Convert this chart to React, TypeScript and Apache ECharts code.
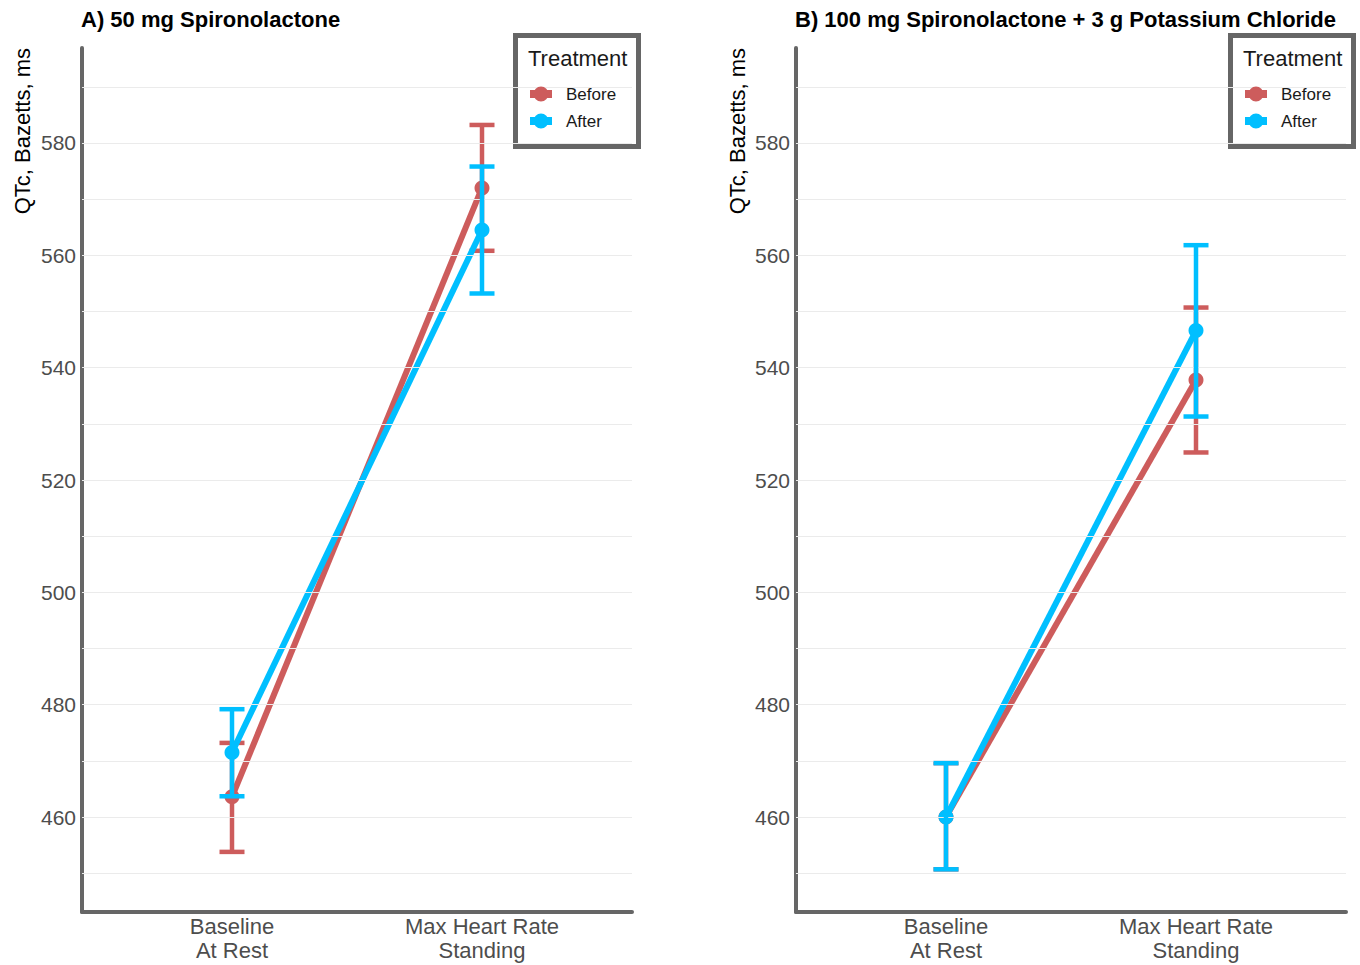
import React, { useEffect, useRef } from "react";
import * as echarts from "echarts";

// ---- data ----
const categories = ["Baseline\nAt Rest", "Max Heart Rate\nStanding"];
const categoryPositions = [0, 1];
const yTickLabels = [460, 480, 500, 520, 540, 560, 580];
const gridValues = [450, 460, 470, 480, 490, 500, 510, 520, 530, 540, 550, 560, 570, 580, 590];
const seriesNames = ["Before", "After"];

const panelTitles = [
  "A) 50 mg Spironolactone",
  "B) 100 mg Spironolactone + 3 g Potassium Chloride",
];
const yAxisTitle = "QTc, Bazetts, ms";
const legendTitle = "Treatment";

// Panel A
const aBeforeMean = [463.6, 572.0];
const aBeforeLow = [453.8, 560.8];
const aBeforeHigh = [473.2, 583.2];
const aAfterMean = [471.5, 564.5];
const aAfterLow = [463.7, 553.2];
const aAfterHigh = [479.2, 575.8];

// Panel B
const bBeforeMean = [460.0, 537.8];
const bBeforeLow = [450.7, 524.9];
const bBeforeHigh = [469.6, 550.7];
const bAfterMean = [460.0, 546.6];
const bAfterLow = [450.7, 531.3];
const bAfterHigh = [469.6, 561.8];

const RED = "#CD5C5C";
const BLUE = "#00BFFF";
const AXIS_GRAY = "#666666";
const FONT = "'Liberation Sans', Arial, Helvetica, sans-serif";
const LEGEND_ICON =
  "path://M0,3.5H22V11.5H0Z M18.5,7.5A7.5,7.5 0 1 1 3.5,7.5A7.5,7.5 0 1 1 18.5,7.5Z";

const panels = [
  {
    before: { mean: aBeforeMean, low: aBeforeLow, high: aBeforeHigh },
    after: { mean: aAfterMean, low: aAfterLow, high: aAfterHigh },
    left: 82,
    yTitleX: 22,
    legendBox: { x: 515.5, y: 35.5 },
  },
  {
    before: { mean: bBeforeMean, low: bBeforeLow, high: bBeforeHigh },
    after: { mean: bAfterMean, low: bAfterLow, high: bAfterHigh },
    left: 796,
    yTitleX: 737,
    legendBox: { x: 1230.5, y: 35.5 },
  },
];

const GRID_TOP = 48;
const GRID_W = 550;
const GRID_H = 864;

function errorBarRender(color: string) {
  return (params: any, api: any) => {
    const x = api.value(0);
    const lo = api.value(1);
    const hi = api.value(2);
    const pLo = api.coord([x, lo]);
    const pHi = api.coord([x, hi]);
    const hw = 12.5;
    const style = { stroke: color, lineWidth: 4.5, fill: null };
    return {
      type: "group",
      children: [
        { type: "line", shape: { x1: pLo[0], y1: pLo[1], x2: pHi[0], y2: pHi[1] }, style },
        { type: "line", shape: { x1: pLo[0] - hw, y1: pLo[1], x2: pLo[0] + hw, y2: pLo[1] }, style },
        { type: "line", shape: { x1: pHi[0] - hw, y1: pHi[1], x2: pHi[0] + hw, y2: pHi[1] }, style },
      ],
    };
  };
}

export default function App() {
  const ref = useRef<HTMLDivElement>(null);

  useEffect(() => {
    if (!ref.current) return;
    const chart = echarts.init(ref.current, null, { renderer: "svg" });

    const grid: any[] = [];
    const xAxis: any[] = [];
    const yAxis: any[] = [];
    const series: any[] = [];
    const title: any[] = [];
    const legend: any[] = [];
    const graphic: any[] = [];

    panels.forEach((p, i) => {
      grid.push({ left: p.left, top: GRID_TOP, width: GRID_W, height: GRID_H, containLabel: false });
      xAxis.push({
        type: "value",
        gridIndex: i,
        min: -0.6,
        max: 1.6,
        splitLine: { show: false },
        axisTick: { show: false },
        axisLine: { show: true, onZero: false, lineStyle: { color: AXIS_GRAY, width: 4 } },
        axisLabel: {
          customValues: categoryPositions,
          formatter: (v: number) => {
            const idx = categoryPositions.findIndex((c) => Math.abs(c - v) < 1e-6);
            return idx >= 0 ? categories[idx] : "";
          },
          color: "#4d4d4d",
          fontSize: 22,
          fontFamily: FONT,
          lineHeight: 24,
          margin: 2,
        },
      });
      yAxis.push({
        type: "value",
        gridIndex: i,
        min: 443.1,
        max: 596.9,
        splitLine: { show: false },
        axisTick: { show: false },
        axisLine: { show: true, onZero: false, lineStyle: { color: AXIS_GRAY, width: 4 } },
        axisLabel: {
          customValues: yTickLabels,
          color: "#4d4d4d",
          fontSize: 21,
          fontFamily: FONT,
          margin: 6,
        },
      });

      // gridlines via markLine
      series.push({
        type: "line",
        name: "grid" + i,
        xAxisIndex: i,
        yAxisIndex: i,
        data: [],
        z: 1,
        silent: true,
        markLine: {
          silent: true,
          symbol: ["none", "none"],
          label: { show: false },
          lineStyle: { color: "#ebebeb", width: 1, type: "solid" },
          emphasis: { disabled: true },
          data: gridValues.map((v) => ({ yAxis: v })),
        },
      });

      const groups = [
        { name: seriesNames[0], d: p.before, color: RED },
        { name: seriesNames[1], d: p.after, color: BLUE },
      ];
      groups.forEach((g, gi) => {
        series.push({
          type: "line",
          name: g.name,
          xAxisIndex: i,
          yAxisIndex: i,
          data: categoryPositions.map((x, k) => [x, g.d.mean[k]]),
          symbol: "circle",
          symbolSize: 15,
          showSymbol: true,
          lineStyle: { color: g.color, width: 6 },
          itemStyle: { color: g.color },
          z: 2 + gi * 2,
          emphasis: { disabled: true },
        });
        series.push({
          type: "custom",
          name: g.name,
          xAxisIndex: i,
          yAxisIndex: i,
          data: categoryPositions.map((x, k) => [x, g.d.low[k], g.d.high[k]]),
          renderItem: errorBarRender(g.color),
          itemStyle: { color: g.color },
          z: 3 + gi * 2,
          encode: { x: 0, y: [1, 2] },
        });
      });

      title.push({
        text: panelTitles[i],
        left: p.left - 1,
        top: 8,
        padding: 0,
        textStyle: { fontFamily: FONT, fontWeight: "bold", fontSize: 22, color: "#000" },
      });

      legend.push({
        data: seriesNames,
        orient: "vertical",
        left: p.legendBox.x + 14.5,
        top: 85.5,
        padding: 0,
        itemGap: 10,
        itemWidth: 22,
        itemHeight: 15,
        icon: LEGEND_ICON,
        selectedMode: false,
        textStyle: { fontSize: 17, color: "#1a1a1a", fontFamily: FONT, padding: [0, 0, 0, 9] },
        z: 6,
      });

      graphic.push({
        type: "rect",
        z: 5,
        shape: { x: p.legendBox.x, y: p.legendBox.y, width: 123, height: 111 },
        style: { fill: "#ffffff", stroke: AXIS_GRAY, lineWidth: 5 },
      });
      graphic.push({
        type: "text",
        z: 6,
        x: p.legendBox.x + 12.5,
        y: 58,
        style: {
          text: legendTitle,
          fontSize: 22,
          fontFamily: FONT,
          fill: "#1a1a1a",
          textAlign: "left",
          textVerticalAlign: "middle",
        },
      });
      graphic.push({
        type: "text",
        x: p.yTitleX,
        y: 48,
        rotation: Math.PI / 2,
        style: {
          text: yAxisTitle,
          fontSize: 22,
          fontFamily: FONT,
          fill: "#000",
          textAlign: "right",
          textVerticalAlign: "middle",
        },
      });
    });

    chart.setOption({
      animation: false,
      backgroundColor: "#ffffff",
      title,
      legend,
      grid,
      xAxis,
      yAxis,
      series,
      graphic,
    });

    return () => chart.dispose();
  }, []);

  return (
    <div
      ref={ref}
      style={{ position: "absolute", left: 0, top: 0, width: 1360, height: 965 }}
    />
  );
}
